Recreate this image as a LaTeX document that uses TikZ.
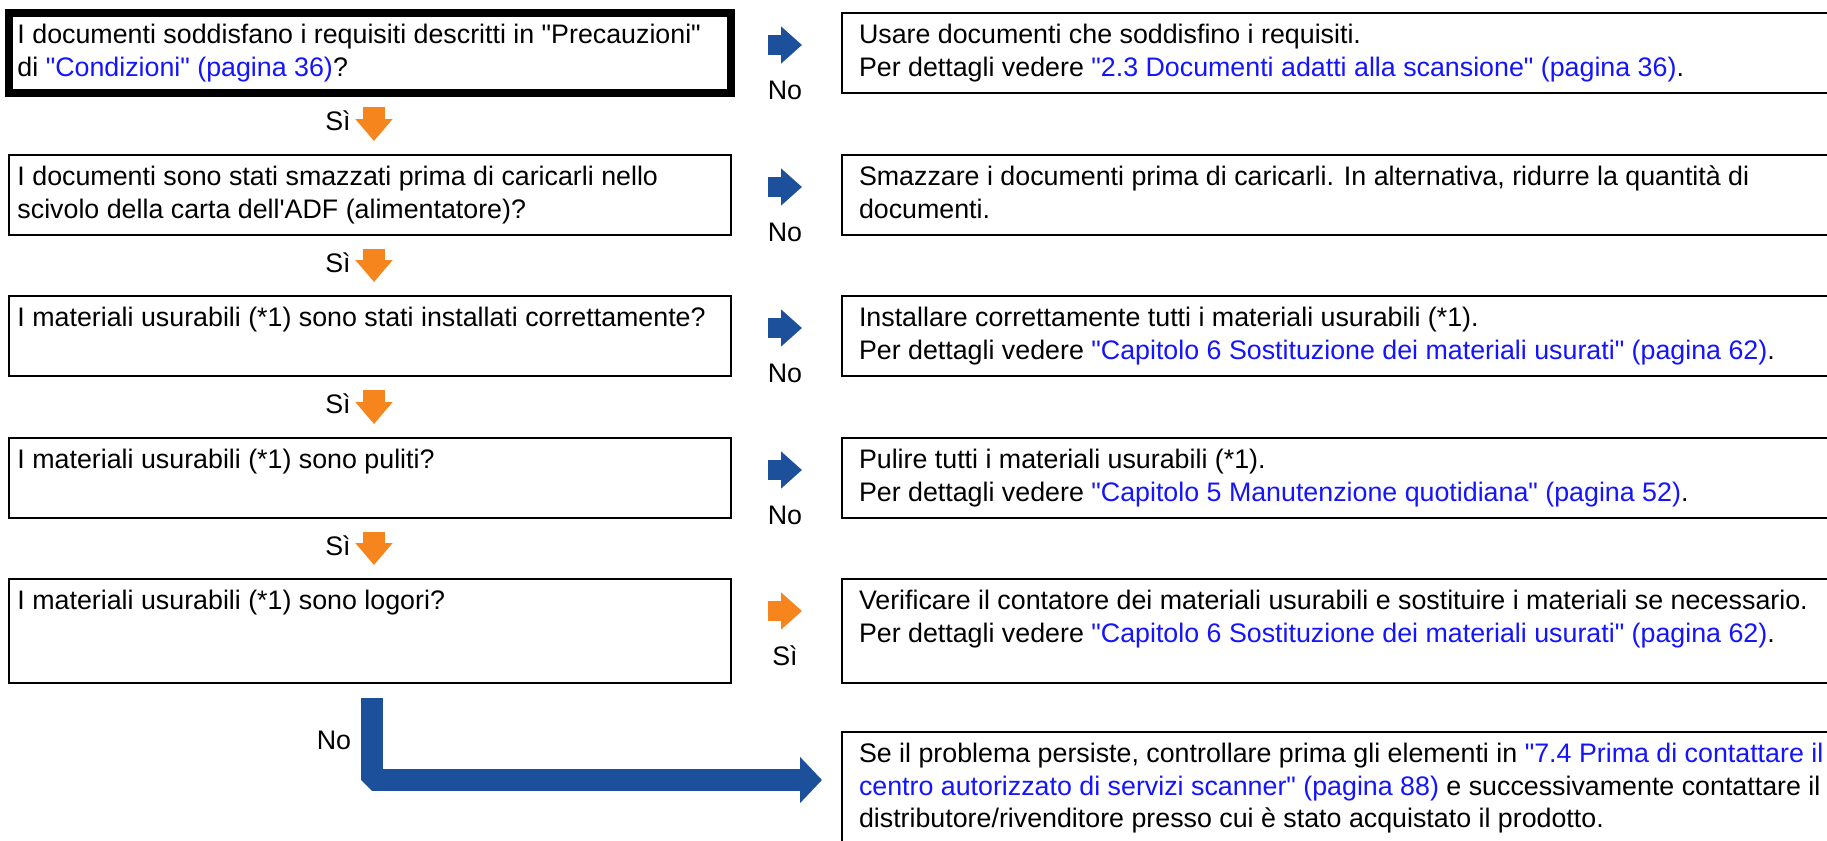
\documentclass[tikz,border=0pt]{standalone}
\usepackage{fontspec}
\setmainfont{Liberation Sans}[Ligatures=TeXOff]
\usepackage{xcolor}
\usetikzlibrary{arrows.meta}
\definecolor{flowb}{HTML}{1D509B}
\definecolor{flowo}{HTML}{F7851E}
\definecolor{linkc}{HTML}{1414FF}
\newcommand{\lnk}[1]{\textcolor{linkc}{#1}}
\newcommand{\bx}[3]{\parbox[c][#1][t]{#2}{\rule{0pt}{9.6pt}#3}}
\tikzset{
  qbox/.style={draw,line width=1.25pt,anchor=north west,outer sep=0pt,inner xsep=4.25pt,inner ysep=5.4pt},
  abox/.style={qbox,inner xsep=8.5pt},
  dar/.style={flowo,line width=11pt,-{Triangle[length=11pt,width=18pt]}},
  rar/.style={flowb,line width=10pt,-{Triangle[length=10.5pt,width=18pt]}},
  lar/.style={flowb,line width=11pt,line join=bevel,-{Triangle[length=11pt,width=22.5pt]}},
  lbl/.style={inner sep=0pt}
}

\begin{document}
\begin{tikzpicture}[x=0.5pt,y=-0.5pt,font=\fontsize{13.4pt}{16.4pt}\selectfont]
\useasboundingbox (0,0) rectangle (1827,841);
\clip (0,0) rectangle (1827,841);
% questions
\node[qbox,line width=4pt] (q1) at (9,13) {\bx{29.2pt}{352.5pt}{I documenti soddisfano i requisiti descritti in "Precauzioni"\\ di \lnk{"Condizioni" (pagina 36)}?}};
\node[qbox] (q2) at (9,155) {\bx{29.2pt}{352.5pt}{I documenti sono stati smazzati prima di caricarli nello\\ scivolo della carta dell'ADF (alimentatore)?}};
\node[qbox] (q3) at (9,296) {\bx{29.2pt}{352.5pt}{I materiali usurabili (*1) sono stati installati correttamente?}};
\node[qbox] (q4) at (9,438) {\bx{29.2pt}{352.5pt}{I materiali usurabili (*1) sono puliti?}};
\node[qbox] (q5) at (9,579) {\bx{41.2pt}{352.5pt}{I materiali usurabili (*1) sono logori?}};
% answers
\node[abox] (a1) at (842,13) {\bx{29.2pt}{520pt}{Usare documenti che soddisfino i requisiti.\\ Per dettagli vedere \lnk{"2.3 Documenti adatti alla scansione" (pagina 36)}.}};
\node[abox] (a2) at (842,155) {\bx{29.2pt}{520pt}{Smazzare i documenti prima di caricarli. In alternativa, ridurre la quantità di\\ documenti.}};
\node[abox] (a3) at (842,296) {\bx{29.2pt}{520pt}{Installare correttamente tutti i materiali usurabili (*1).\\ Per dettagli vedere \lnk{"Capitolo 6 Sostituzione dei materiali usurati" (pagina 62)}.}};
\node[abox] (a4) at (842,438) {\bx{29.2pt}{520pt}{Pulire tutti i materiali usurabili (*1).\\ Per dettagli vedere \lnk{"Capitolo 5 Manutenzione quotidiana" (pagina 52)}.}};
\node[abox] (a5) at (842,579) {\bx{41.2pt}{520pt}{Verificare il contatore dei materiali usurabili e sostituire i materiali se necessario.\\ Per dettagli vedere \lnk{"Capitolo 6 Sostituzione dei materiali usurati" (pagina 62)}.}};
\node[abox] (a6) at (842,732) {\bx{54.2pt}{520pt}{Se il problema persiste, controllare prima gli elementi in \lnk{"7.4 Prima di contattare il}\\ \lnk{centro autorizzato di servizi scanner" (pagina 88)} e successivamente contattare il\\ distributore/rivenditore presso cui è stato acquistato il prodotto.}};
% yes arrows
\foreach \a/\b in {q1/q2,q2/q3,q3/q4,q4/q5}
  \draw[dar] ([shift={(2pt,-7pt)}]\a.south) -- ([shift={(2pt,7pt)}]\b.north);
\node[lbl] (s1) at (338,121) {Sì};
\node[lbl] (s2) at (338,263) {Sì};
\node[lbl] (s3) at (338,404) {Sì};
\node[lbl] (s4) at (338,546) {Sì};
% side arrows
\foreach \i in {1,...,4}
  \draw[rar] ([shift={(18.5pt,-16pt)}]q\i.north east) -- ([shift={(-20pt,-16pt)}]a\i.north west);
\draw[rar,flowo] ([shift={(18.5pt,-16pt)}]q5.north east) -- ([shift={(-20pt,-16pt)}]a5.north west);
\node[lbl] (n1) at (785,90) {No};
\node[lbl] (n2) at (785,232) {No};
\node[lbl] (n3) at (785,373) {No};
\node[lbl] (n4) at (785,515) {No};
\node[lbl] (s5) at (785,656) {Sì};
% last step
\draw[lar] ([shift={(1pt,-7.5pt)}]q5.south) |- ([shift={(-10pt,-24pt)}]a6.north west);
\node[lbl] (n5) at (334,740) {No};
\end{tikzpicture}
\end{document}
